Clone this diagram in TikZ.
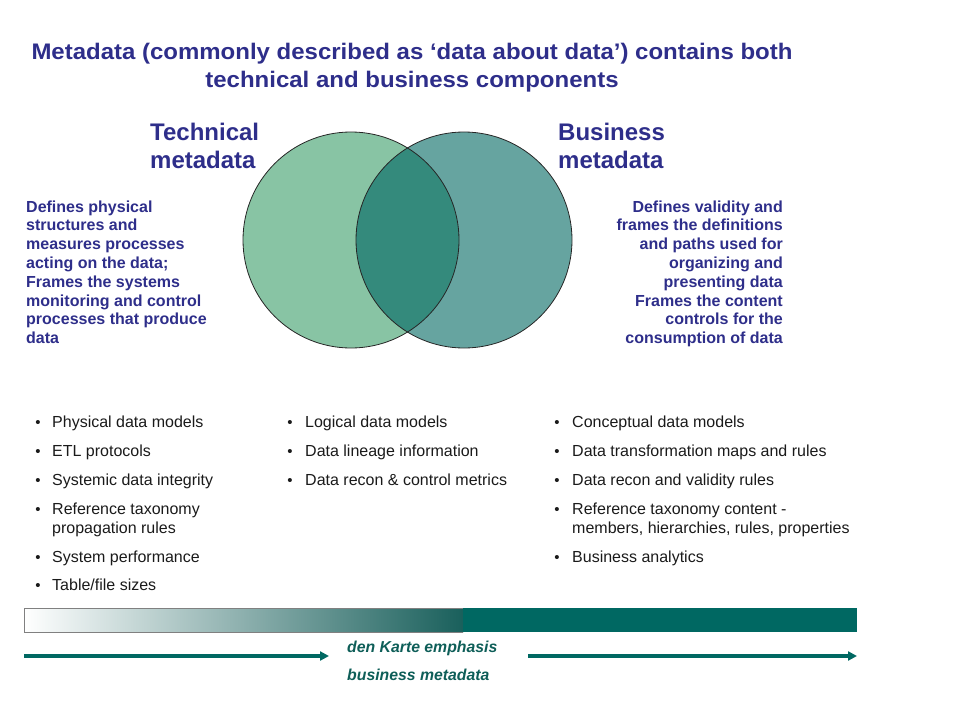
\documentclass[tikz,border=0pt]{standalone}
\usepackage{fontspec}
\setmainfont{Liberation Sans}
\usetikzlibrary{arrows.meta}
\definecolor{titleblue}{HTML}{2E2E8A}
\definecolor{circA}{HTML}{88C4A4}
\definecolor{circB}{HTML}{66A4A0}
\definecolor{circAB}{HTML}{348A7C}
\definecolor{teal}{HTML}{006862}
\definecolor{tealtext}{HTML}{0E5E58}
\definecolor{bullettext}{HTML}{1A1A1A}
\tikzset{
  titletext/.style={font=\fontsize{22.5}{28}\selectfont\bfseries, text=titleblue, inner sep=0pt, anchor=base},
  headtext/.style={font=\fontsize{24}{28}\selectfont\bfseries, text=titleblue, inner sep=0pt, anchor=base west},
  parabox/.style={font=\fontsize{16}{18.8}\selectfont\bfseries, text=titleblue, inner sep=0pt},
  listtext/.style={font=\fontsize{16}{19}\selectfont, text=bullettext, inner sep=0pt, anchor=base west},
  bulletmark/.style={font=\fontsize{15}{19}\selectfont, text=bullettext, inner sep=0pt, anchor=base},
  bottomtext/.style={font=\fontsize{15.8}{19}\selectfont\bfseries\itshape, text=tealtext, inner sep=0pt, anchor=base west},
  arrowline/.style={draw=teal, line width=3.5pt, -{Triangle[length=9pt,width=9pt]}},
  venn/.style={draw=black!85, line width=0.8pt}
}
\newcommand{\bul}{\textbullet}
\begin{document}
\begin{tikzpicture}[x=1pt,y=-1pt]
\useasboundingbox (0,0) rectangle (960,720);
% title
\node[titletext] (t1) at (412,59) {\scalebox{1.066}[1]{Metadata (commonly described as ‘data about data’) contains both}};
\node[titletext] (t2) at (412,87) {\scalebox{1.066}[1]{technical and business components}};
% venn
\fill[circA] (351,240) circle (108);
\fill[circB] (464,240) circle (108);
\begin{scope}
  \clip (351,240) circle (108);
  \fill[circAB] (464,240) circle (108);
\end{scope}
\draw[venn] (351,240) circle (108);
\draw[venn] (464,240) circle (108);
% headings
\node[headtext] (th) at (150,140) {Technical};
\node[headtext] (th2) at (150,168) {metadata};
\node[headtext] (bh) at (558,140) {Business};
\node[headtext] (bh2) at (558,168) {metadata};
% paragraphs
\node[parabox, anchor=base west] (lp) at (26,212) {\begin{tabular}[t]{@{}l@{}}Defines physical\\structures and\\measures processes\\acting on the data;\\Frames the systems\\monitoring and control\\processes that produce\\data\end{tabular}};
\node[parabox, anchor=base east] (rp) at (783,212) {\begin{tabular}[t]{@{}r@{}}Defines validity and\\frames the definitions\\and paths used for\\organizing and\\presenting data\\Frames the content\\controls for the\\consumption of data\end{tabular}};
% left list
\node[bulletmark] (lb1) at (38,427) {\bul};
\node[listtext] (l1) at (52,427) {Physical data models};
\node[bulletmark] (lb2) at (38,456) {\bul};
\node[listtext] (l2) at (52,456) {ETL protocols};
\node[bulletmark] (lb3) at (38,485) {\bul};
\node[listtext] (l3) at (52,485) {Systemic data integrity};
\node[bulletmark] (lb4) at (38,514) {\bul};
\node[listtext] (l4) at (52,514) {Reference taxonomy};
\node[listtext] (l4b) at (52,533) {propagation rules};
\node[bulletmark] (lb5) at (38,562) {\bul};
\node[listtext] (l5) at (52,562) {System performance};
\node[bulletmark] (lb6) at (38,590) {\bul};
\node[listtext] (l6) at (52,590) {Table/file sizes};
% middle list
\node[bulletmark] (mb1) at (290,427) {\bul};
\node[listtext] (m1) at (305,427) {Logical data models};
\node[bulletmark] (mb2) at (290,456) {\bul};
\node[listtext] (m2) at (305,456) {Data lineage information};
\node[bulletmark] (mb3) at (290,485) {\bul};
\node[listtext] (m3) at (305,485) {Data recon \& control metrics};
% right list
\node[bulletmark] (rb1) at (557,427) {\bul};
\node[listtext] (r1) at (572,427) {Conceptual data models};
\node[bulletmark] (rb2) at (557,456) {\bul};
\node[listtext] (r2) at (572,456) {Data transformation maps and rules};
\node[bulletmark] (rb3) at (557,485) {\bul};
\node[listtext] (r3) at (572,485) {Data recon and validity rules};
\node[bulletmark] (rb4) at (557,514) {\bul};
\node[listtext] (r4) at (572,514) {Reference taxonomy content -};
\node[listtext] (r4b) at (572,533) {members, hierarchies, rules, properties};
\node[bulletmark] (rb5) at (557,562) {\bul};
\node[listtext] (r5) at (572,562) {Business analytics};
% gradient bar
\shade[left color=white, right color=teal!75!black!90!white] (24,608) rectangle (463,632);
\fill[teal] (463,608) rectangle (857,632);
\draw[gray, line width=0.8pt] (463,608) -- (24,608) -- (24,632) -- (463,632);
% arrows
\coordinate (a1s) at (24,656);
\coordinate (a1e) at (329,656);
\coordinate (a2s) at (528,656);
\coordinate (a2e) at (857,656);
\draw[arrowline] (a1s) -- (a1e);
\draw[arrowline] (a2s) -- (a2e);
\node[bottomtext] (bt1) at (347,652) {den Karte emphasis};
\node[bottomtext] (bt2) at (347,680) {business metadata};
\end{tikzpicture}
\end{document}
